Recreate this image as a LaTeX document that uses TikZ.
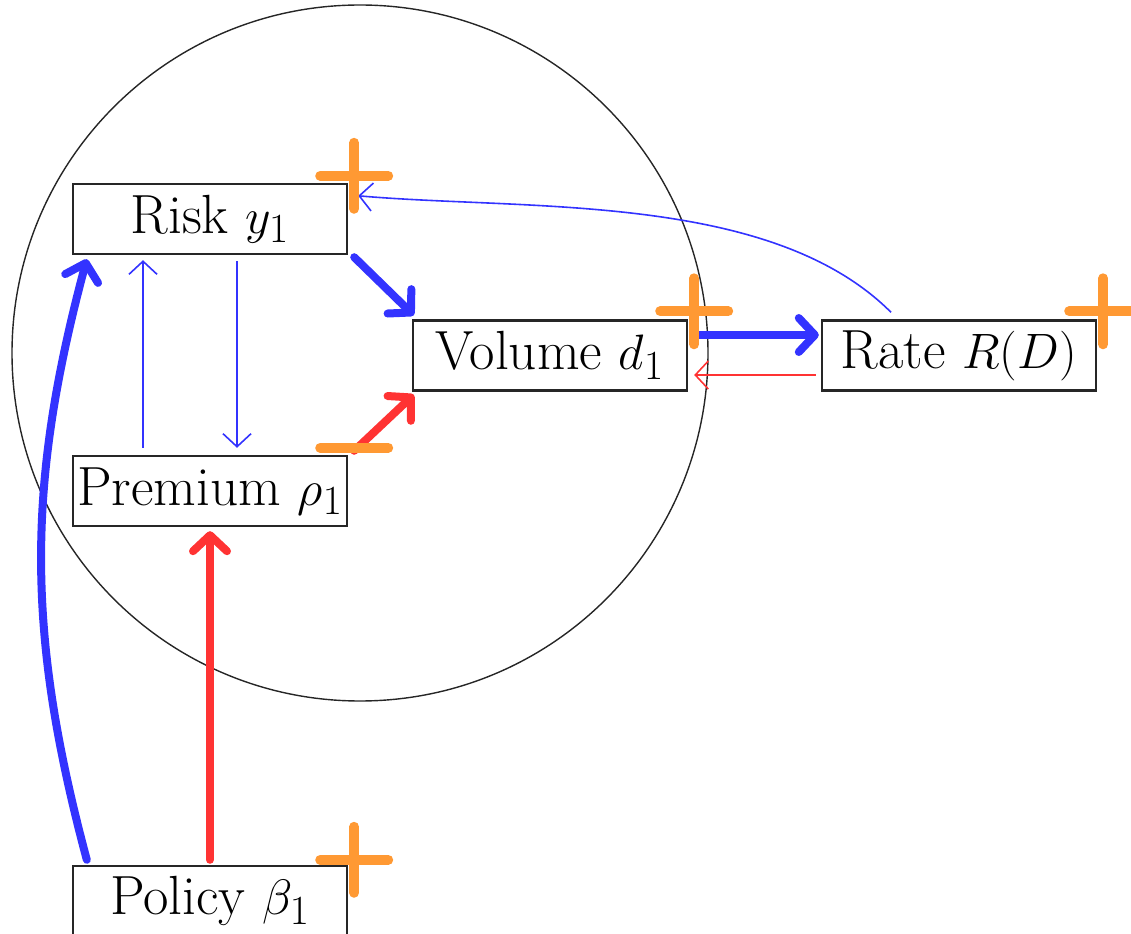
\documentclass[tikz,border=0pt]{standalone}
\usepackage{xcolor}
\usetikzlibrary{arrows.meta, calc}
\definecolor{qblue}{RGB}{51,51,255}
\definecolor{qred}{RGB}{255,51,51}
\definecolor{qorange}{RGB}{255,153,51}

\tikzset{
  var/.style={draw=black!85, line width=1.2pt, fill=white, minimum width=137pt, minimum height=35pt, inner sep=0pt, font=\fontsize{27.6}{33}\selectfont},
  strong/.style={line width=4pt, line cap=round, -{Straight Barb[length=8pt,width=17pt,round]}},
  weak/.style={line width=0.8pt, -{Straight Barb[length=6.5pt,width=14pt]}},
  plusmark/.pic={\draw[qorange, line width=5pt, line cap=round] (-34,0) -- (34,0) (0,-33) -- (0,33);},
  minusmark/.pic={\draw[qorange, line width=5pt, line cap=round] (-34,0) -- (34,0);},
}

\begin{document}
\begin{tikzpicture}[x=0.5pt, y=0.5pt]
\useasboundingbox (0,0) rectangle (1131,933);
% feedback loop
\draw[black!85, line width=0.7pt] (360,580) circle[radius=174pt];

\node[var] (risk) at (210,714) {Risk $y_1$};
\node[var] (premium) at (210,442) {Premium $\rho_1$};
\node[var] (volume) at (550,577.5) {Volume $d_1$};
\node[var] (rate) at (959,577.5) {Rate $R(D)$};
\node[var] (policy) at (210,32) {Policy $\beta_1$};

% strong links
\draw[strong, qblue] ($(policy.north west)+(15,5)$) to[bend left=15] ($(risk.south west)+(15,-4)$);
\draw[strong, qred] ($(policy.north)+(0,5)$) -- ($(premium.south)+(0,-4)$);
\draw[strong, qblue] ($(risk.south east)+(6,-2)$) -- ($(volume.north west)+(2,4)$);
\draw[strong, qred] ($(premium.north east)+(6,4)$) -- ($(volume.south west)+(2,-3)$);
\draw[strong, qblue] ($(volume.east)+(11,20.5)$) -- ($(rate.west)+(-2,20.5)$);

% weak links
\draw[weak, qred] ($(rate.west)+(-5,-19.5)$) -- ($(volume.east)+(6,-19.5)$);
\draw[weak, qblue] ($(rate.north)+(-68,7)$) to[out=135, in=-5, looseness=0.8] ($(risk.north east)+(10,-13)$);
\draw[weak, qblue] ($(premium.north)+(-67,7)$) -- ($(risk.south)+(-67,-5)$);
\draw[weak, qblue] ($(risk.south)+(27,-6)$) -- ($(premium.north)+(27,7)$);

% signs
\pic at ($(risk.north east)+(6,7)$) {plusmark};
\pic at ($(volume.north east)+(6,8)$) {plusmark};
\pic at ($(rate.north east)+(6,8)$) {plusmark};
\pic at ($(policy.north east)+(6,5)$) {plusmark};
\pic at ($(premium.north east)+(6,7)$) {minusmark};
\end{tikzpicture}
\end{document}
